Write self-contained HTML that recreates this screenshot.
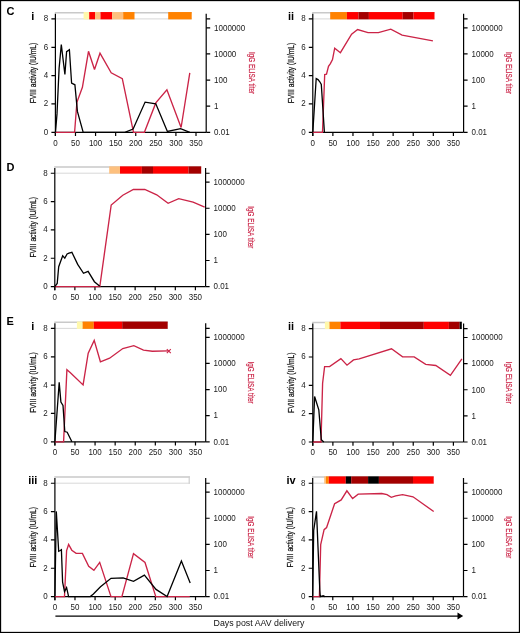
<!DOCTYPE html><html><head><meta charset="utf-8"><style>html,body{margin:0;padding:0;background:#fff;}svg{display:block;will-change:transform;}</style></head><body>
<svg width="520" height="633" viewBox="0 0 520 633" font-family='"Liberation Sans", sans-serif'>
<rect x="0" y="0" width="520" height="633" fill="#fff"/>
<rect x="0.575" y="0.575" width="518.85" height="631.85" fill="none" stroke="#000" stroke-width="1.15"/>
<path d="M54.8 12.7H191.7" stroke="#c9c9c9" stroke-width="1.5" fill="none"/>
<path d="M55.4 18.9H191.7" stroke="#d4d4d4" stroke-width="0.9" fill="none"/>
<rect x="83.6" y="12.05" width="5.6" height="7.3" fill="#fff8ac"/>
<rect x="89.2" y="12.05" width="5.8" height="7.3" fill="#ff0000"/>
<rect x="95" y="12.05" width="5.5" height="7.3" fill="#fdc07e"/>
<rect x="100.5" y="12.05" width="11.7" height="7.3" fill="#ff0000"/>
<rect x="112.2" y="12.05" width="11" height="7.3" fill="#fdc07e"/>
<rect x="123.2" y="12.05" width="11.3" height="7.3" fill="#ff8200"/>
<rect x="168.2" y="12.05" width="23.5" height="7.3" fill="#ff8200"/>
<path d="M55.4 13.8V136M55.4 132.3H206.2M206.2 13.8V132.3" stroke="#000" stroke-width="1.2" fill="none"/>
<path d="M51.4 132.3H55.4M51.4 103.96H55.4M51.4 75.62H55.4M51.4 47.28H55.4M51.4 18.94H55.4M55.4 132.3V136M75.48 132.3V136M95.57 132.3V136M115.66 132.3V136M135.74 132.3V136M155.82 132.3V136M175.91 132.3V136M196 132.3V136M206.2 18.94H210.2M206.2 132.3H210.2M206.2 106.18H210.2M206.2 80.06H210.2M206.2 53.94H210.2M206.2 27.82H210.2" stroke="#000" stroke-width="1.2" fill="none"/>
<text transform="translate(48.2,134.8) scale(1,1.1)" font-size="8" text-anchor="end" fill="#1a1a1a">0</text>
<text transform="translate(48.2,106.46) scale(1,1.1)" font-size="8" text-anchor="end" fill="#1a1a1a">2</text>
<text transform="translate(48.2,78.12) scale(1,1.1)" font-size="8" text-anchor="end" fill="#1a1a1a">4</text>
<text transform="translate(48.2,49.78) scale(1,1.1)" font-size="8" text-anchor="end" fill="#1a1a1a">6</text>
<text transform="translate(48.2,21.44) scale(1,1.1)" font-size="8" text-anchor="end" fill="#1a1a1a">8</text>
<text transform="translate(55.4,145.5) scale(1,1.1)" font-size="8" text-anchor="middle" fill="#1a1a1a">0</text>
<text transform="translate(75.48,145.5) scale(1,1.1)" font-size="8" text-anchor="middle" fill="#1a1a1a">50</text>
<text transform="translate(95.57,145.5) scale(1,1.1)" font-size="8" text-anchor="middle" fill="#1a1a1a">100</text>
<text transform="translate(115.66,145.5) scale(1,1.1)" font-size="8" text-anchor="middle" fill="#1a1a1a">150</text>
<text transform="translate(135.74,145.5) scale(1,1.1)" font-size="8" text-anchor="middle" fill="#1a1a1a">200</text>
<text transform="translate(155.82,145.5) scale(1,1.1)" font-size="8" text-anchor="middle" fill="#1a1a1a">250</text>
<text transform="translate(175.91,145.5) scale(1,1.1)" font-size="8" text-anchor="middle" fill="#1a1a1a">300</text>
<text transform="translate(196,145.5) scale(1,1.1)" font-size="8" text-anchor="middle" fill="#1a1a1a">350</text>
<text transform="translate(214.1,135.1) scale(1,1.1)" font-size="8" fill="#1a1a1a">0.01</text>
<text transform="translate(214.1,108.98) scale(1,1.1)" font-size="8" fill="#1a1a1a">1</text>
<text transform="translate(214.1,82.86) scale(1,1.1)" font-size="8" fill="#1a1a1a">100</text>
<text transform="translate(214.1,56.74) scale(1,1.1)" font-size="8" fill="#1a1a1a">10000</text>
<text transform="translate(214.1,30.62) scale(1,1.1)" font-size="8" fill="#1a1a1a">1000000</text>
<text transform="translate(36.1,73) rotate(-90)" font-size="9.8" text-anchor="middle" textLength="60.5" lengthAdjust="spacingAndGlyphs" fill="#111" stroke="#111" stroke-width="0.25">FVIII activity (IU/mL)</text>
<text transform="translate(248.7,73) rotate(90)" font-size="9.8" text-anchor="middle" textLength="42.2" lengthAdjust="spacingAndGlyphs" fill="#cb2447" stroke="#cb2447" stroke-width="0.2">IgG ELISA titer</text>
<polyline points="55.5,132.3 74.6,132.3 76.9,102.3 82.4,87.3 88.5,51.3 94.5,69.5 100,53.2 111.2,72.8 122.3,78.6 133.5,132.3 144.4,132.3 155.8,102.9 166.9,89.7 181.1,127.5 189.8,72.8" fill="none" stroke="#cb2447" stroke-width="1.35" stroke-linejoin="miter" stroke-miterlimit="3"/>
<polyline points="55.5,132.3 57,113.9 59.1,68.2 61.3,44.6 64.9,74.5 66.6,51.6 69.4,49.6 71.6,83.2 74.9,84.8 77.4,111.4 83.2,132.3 124.8,132.3 133.1,129.1 145.1,102.1 155.8,103.8 167.4,131.4 180.6,128.6 189.8,132.3" fill="none" stroke="#000" stroke-width="1.3" stroke-linejoin="miter" stroke-miterlimit="3"/>
<text x="32.8" y="20.1" font-size="11" font-weight="bold" text-anchor="middle">i</text>
<path d="M312.2 12.7H434.5" stroke="#c9c9c9" stroke-width="1.5" fill="none"/>
<path d="M312.8 18.9H434.5" stroke="#d4d4d4" stroke-width="0.9" fill="none"/>
<rect x="330.2" y="12.05" width="16.7" height="7.3" fill="#ff8200"/>
<rect x="346.9" y="12.05" width="11.6" height="7.3" fill="#ff0000"/>
<rect x="358.5" y="12.05" width="10.4" height="7.3" fill="#a30000"/>
<rect x="368.9" y="12.05" width="33.8" height="7.3" fill="#ff0000"/>
<rect x="402.7" y="12.05" width="10.8" height="7.3" fill="#a30000"/>
<rect x="413.5" y="12.05" width="21" height="7.3" fill="#ff0000"/>
<path d="M312.8 13.8V136M312.8 132.3H463.6M463.6 13.8V132.3" stroke="#000" stroke-width="1.2" fill="none"/>
<path d="M308.8 132.3H312.8M308.8 103.96H312.8M308.8 75.62H312.8M308.8 47.28H312.8M308.8 18.94H312.8M312.8 132.3V136M332.88 132.3V136M352.97 132.3V136M373.06 132.3V136M393.14 132.3V136M413.23 132.3V136M433.31 132.3V136M453.39 132.3V136M463.6 18.94H467.6M463.6 132.3H467.6M463.6 106.18H467.6M463.6 80.06H467.6M463.6 53.94H467.6M463.6 27.82H467.6" stroke="#000" stroke-width="1.2" fill="none"/>
<text transform="translate(305.6,134.8) scale(1,1.1)" font-size="8" text-anchor="end" fill="#1a1a1a">0</text>
<text transform="translate(305.6,106.46) scale(1,1.1)" font-size="8" text-anchor="end" fill="#1a1a1a">2</text>
<text transform="translate(305.6,78.12) scale(1,1.1)" font-size="8" text-anchor="end" fill="#1a1a1a">4</text>
<text transform="translate(305.6,49.78) scale(1,1.1)" font-size="8" text-anchor="end" fill="#1a1a1a">6</text>
<text transform="translate(305.6,21.44) scale(1,1.1)" font-size="8" text-anchor="end" fill="#1a1a1a">8</text>
<text transform="translate(312.8,145.5) scale(1,1.1)" font-size="8" text-anchor="middle" fill="#1a1a1a">0</text>
<text transform="translate(332.88,145.5) scale(1,1.1)" font-size="8" text-anchor="middle" fill="#1a1a1a">50</text>
<text transform="translate(352.97,145.5) scale(1,1.1)" font-size="8" text-anchor="middle" fill="#1a1a1a">100</text>
<text transform="translate(373.06,145.5) scale(1,1.1)" font-size="8" text-anchor="middle" fill="#1a1a1a">150</text>
<text transform="translate(393.14,145.5) scale(1,1.1)" font-size="8" text-anchor="middle" fill="#1a1a1a">200</text>
<text transform="translate(413.23,145.5) scale(1,1.1)" font-size="8" text-anchor="middle" fill="#1a1a1a">250</text>
<text transform="translate(433.31,145.5) scale(1,1.1)" font-size="8" text-anchor="middle" fill="#1a1a1a">300</text>
<text transform="translate(453.39,145.5) scale(1,1.1)" font-size="8" text-anchor="middle" fill="#1a1a1a">350</text>
<text transform="translate(471.5,135.1) scale(1,1.1)" font-size="8" fill="#1a1a1a">0.01</text>
<text transform="translate(471.5,108.98) scale(1,1.1)" font-size="8" fill="#1a1a1a">1</text>
<text transform="translate(471.5,82.86) scale(1,1.1)" font-size="8" fill="#1a1a1a">100</text>
<text transform="translate(471.5,56.74) scale(1,1.1)" font-size="8" fill="#1a1a1a">10000</text>
<text transform="translate(471.5,30.62) scale(1,1.1)" font-size="8" fill="#1a1a1a">1000000</text>
<text transform="translate(293.5,73) rotate(-90)" font-size="9.8" text-anchor="middle" textLength="60.5" lengthAdjust="spacingAndGlyphs" fill="#111" stroke="#111" stroke-width="0.25">FVIII activity (IU/mL)</text>
<text transform="translate(506.1,73) rotate(90)" font-size="9.8" text-anchor="middle" textLength="42.2" lengthAdjust="spacingAndGlyphs" fill="#cb2447" stroke="#cb2447" stroke-width="0.2">IgG ELISA titer</text>
<polyline points="312.8,132.3 322.5,132.3 324.7,74.5 326.5,74.2 328.5,66.4 330.4,63.6 332.5,59.6 334.7,48.2 340.4,52.7 351.6,34.2 357.6,29.5 368,32.6 378.4,32.6 390.8,29.2 402.1,35.2 432.9,40.8" fill="none" stroke="#cb2447" stroke-width="1.35" stroke-linejoin="miter" stroke-miterlimit="3"/>
<polyline points="312.8,132.3 316.2,78.5 318,79.6 319.8,81.8 321.3,84.5 324.4,132.3" fill="none" stroke="#000" stroke-width="1.3" stroke-linejoin="miter" stroke-miterlimit="3"/>
<text x="291" y="20.1" font-size="11" font-weight="bold" text-anchor="middle">ii</text>
<path d="M54.2 167H201.2" stroke="#c9c9c9" stroke-width="1.5" fill="none"/>
<path d="M54.8 173.2H201.2" stroke="#d4d4d4" stroke-width="0.9" fill="none"/>
<rect x="109.2" y="166.35" width="10.8" height="7.3" fill="#fdc07e"/>
<rect x="120" y="166.35" width="21.9" height="7.3" fill="#ff0000"/>
<rect x="141.9" y="166.35" width="11.1" height="7.3" fill="#a30000"/>
<rect x="153" y="166.35" width="35.5" height="7.3" fill="#ff0000"/>
<rect x="188.5" y="166.35" width="12.7" height="7.3" fill="#a30000"/>
<path d="M54.8 168.1V290.3M54.8 286.6H205.6M205.6 168.1V286.6" stroke="#000" stroke-width="1.2" fill="none"/>
<path d="M50.8 286.6H54.8M50.8 258.26H54.8M50.8 229.92H54.8M50.8 201.58H54.8M50.8 173.24H54.8M54.8 286.6V290.3M74.88 286.6V290.3M94.97 286.6V290.3M115.06 286.6V290.3M135.14 286.6V290.3M155.22 286.6V290.3M175.31 286.6V290.3M195.39 286.6V290.3M205.6 173.24H209.6M205.6 286.6H209.6M205.6 260.48H209.6M205.6 234.36H209.6M205.6 208.24H209.6M205.6 182.12H209.6" stroke="#000" stroke-width="1.2" fill="none"/>
<text transform="translate(47.6,289.1) scale(1,1.1)" font-size="8" text-anchor="end" fill="#1a1a1a">0</text>
<text transform="translate(47.6,260.76) scale(1,1.1)" font-size="8" text-anchor="end" fill="#1a1a1a">2</text>
<text transform="translate(47.6,232.42) scale(1,1.1)" font-size="8" text-anchor="end" fill="#1a1a1a">4</text>
<text transform="translate(47.6,204.08) scale(1,1.1)" font-size="8" text-anchor="end" fill="#1a1a1a">6</text>
<text transform="translate(47.6,175.74) scale(1,1.1)" font-size="8" text-anchor="end" fill="#1a1a1a">8</text>
<text transform="translate(54.8,299.8) scale(1,1.1)" font-size="8" text-anchor="middle" fill="#1a1a1a">0</text>
<text transform="translate(74.88,299.8) scale(1,1.1)" font-size="8" text-anchor="middle" fill="#1a1a1a">50</text>
<text transform="translate(94.97,299.8) scale(1,1.1)" font-size="8" text-anchor="middle" fill="#1a1a1a">100</text>
<text transform="translate(115.06,299.8) scale(1,1.1)" font-size="8" text-anchor="middle" fill="#1a1a1a">150</text>
<text transform="translate(135.14,299.8) scale(1,1.1)" font-size="8" text-anchor="middle" fill="#1a1a1a">200</text>
<text transform="translate(155.22,299.8) scale(1,1.1)" font-size="8" text-anchor="middle" fill="#1a1a1a">250</text>
<text transform="translate(175.31,299.8) scale(1,1.1)" font-size="8" text-anchor="middle" fill="#1a1a1a">300</text>
<text transform="translate(195.39,299.8) scale(1,1.1)" font-size="8" text-anchor="middle" fill="#1a1a1a">350</text>
<text transform="translate(213.5,289.4) scale(1,1.1)" font-size="8" fill="#1a1a1a">0.01</text>
<text transform="translate(213.5,263.28) scale(1,1.1)" font-size="8" fill="#1a1a1a">1</text>
<text transform="translate(213.5,237.16) scale(1,1.1)" font-size="8" fill="#1a1a1a">100</text>
<text transform="translate(213.5,211.04) scale(1,1.1)" font-size="8" fill="#1a1a1a">10000</text>
<text transform="translate(213.5,184.92) scale(1,1.1)" font-size="8" fill="#1a1a1a">1000000</text>
<text transform="translate(35.5,227.3) rotate(-90)" font-size="9.8" text-anchor="middle" textLength="60.5" lengthAdjust="spacingAndGlyphs" fill="#111" stroke="#111" stroke-width="0.25">FVIII activity (IU/mL)</text>
<text transform="translate(248.1,227.3) rotate(90)" font-size="9.8" text-anchor="middle" textLength="42.2" lengthAdjust="spacingAndGlyphs" fill="#cb2447" stroke="#cb2447" stroke-width="0.2">IgG ELISA titer</text>
<polyline points="54.8,286.6 99.8,286.6 111.2,205 122.8,195.2 133.4,189.5 144.8,189.5 156.7,194.8 168.1,203.3 178.7,198.6 193.1,202.2 204.7,207.1" fill="none" stroke="#cb2447" stroke-width="1.35" stroke-linejoin="miter" stroke-miterlimit="3"/>
<polyline points="54.8,286.6 57.2,283.5 58.7,266.7 60.4,262.1 62.7,255.8 64.8,258.1 67.1,254 69,253.2 71.9,252.3 77.7,264.4 83.5,273.3 88.1,271.3 94.4,281.7 99.8,286.3" fill="none" stroke="#000" stroke-width="1.3" stroke-linejoin="miter" stroke-miterlimit="3"/>
<path d="M54.3 322.2H167.7" stroke="#c9c9c9" stroke-width="1.5" fill="none"/>
<path d="M54.9 328.4H167.7" stroke="#d4d4d4" stroke-width="0.9" fill="none"/>
<rect x="76.9" y="321.55" width="5.7" height="7.3" fill="#fff8ac"/>
<rect x="82.6" y="321.55" width="11.2" height="7.3" fill="#ff8200"/>
<rect x="93.8" y="321.55" width="28.4" height="7.3" fill="#ff0000"/>
<rect x="122.2" y="321.55" width="45.5" height="7.3" fill="#a30000"/>
<path d="M54.9 323.3V445.5M54.9 441.8H205.7M205.7 323.3V441.8" stroke="#000" stroke-width="1.2" fill="none"/>
<path d="M50.9 441.8H54.9M50.9 413.46H54.9M50.9 385.12H54.9M50.9 356.78H54.9M50.9 328.44H54.9M54.9 441.8V445.5M74.98 441.8V445.5M95.07 441.8V445.5M115.16 441.8V445.5M135.24 441.8V445.5M155.32 441.8V445.5M175.41 441.8V445.5M195.5 441.8V445.5M205.7 328.44H209.7M205.7 441.8H209.7M205.7 415.68H209.7M205.7 389.56H209.7M205.7 363.44H209.7M205.7 337.32H209.7" stroke="#000" stroke-width="1.2" fill="none"/>
<text transform="translate(47.7,444.3) scale(1,1.1)" font-size="8" text-anchor="end" fill="#1a1a1a">0</text>
<text transform="translate(47.7,415.96) scale(1,1.1)" font-size="8" text-anchor="end" fill="#1a1a1a">2</text>
<text transform="translate(47.7,387.62) scale(1,1.1)" font-size="8" text-anchor="end" fill="#1a1a1a">4</text>
<text transform="translate(47.7,359.28) scale(1,1.1)" font-size="8" text-anchor="end" fill="#1a1a1a">6</text>
<text transform="translate(47.7,330.94) scale(1,1.1)" font-size="8" text-anchor="end" fill="#1a1a1a">8</text>
<text transform="translate(54.9,455) scale(1,1.1)" font-size="8" text-anchor="middle" fill="#1a1a1a">0</text>
<text transform="translate(74.98,455) scale(1,1.1)" font-size="8" text-anchor="middle" fill="#1a1a1a">50</text>
<text transform="translate(95.07,455) scale(1,1.1)" font-size="8" text-anchor="middle" fill="#1a1a1a">100</text>
<text transform="translate(115.16,455) scale(1,1.1)" font-size="8" text-anchor="middle" fill="#1a1a1a">150</text>
<text transform="translate(135.24,455) scale(1,1.1)" font-size="8" text-anchor="middle" fill="#1a1a1a">200</text>
<text transform="translate(155.32,455) scale(1,1.1)" font-size="8" text-anchor="middle" fill="#1a1a1a">250</text>
<text transform="translate(175.41,455) scale(1,1.1)" font-size="8" text-anchor="middle" fill="#1a1a1a">300</text>
<text transform="translate(195.5,455) scale(1,1.1)" font-size="8" text-anchor="middle" fill="#1a1a1a">350</text>
<text transform="translate(213.6,444.6) scale(1,1.1)" font-size="8" fill="#1a1a1a">0.01</text>
<text transform="translate(213.6,418.48) scale(1,1.1)" font-size="8" fill="#1a1a1a">1</text>
<text transform="translate(213.6,392.36) scale(1,1.1)" font-size="8" fill="#1a1a1a">100</text>
<text transform="translate(213.6,366.24) scale(1,1.1)" font-size="8" fill="#1a1a1a">10000</text>
<text transform="translate(213.6,340.12) scale(1,1.1)" font-size="8" fill="#1a1a1a">1000000</text>
<text transform="translate(35.6,382.5) rotate(-90)" font-size="9.8" text-anchor="middle" textLength="60.5" lengthAdjust="spacingAndGlyphs" fill="#111" stroke="#111" stroke-width="0.25">FVIII activity (IU/mL)</text>
<text transform="translate(248.2,382.5) rotate(90)" font-size="9.8" text-anchor="middle" textLength="42.2" lengthAdjust="spacingAndGlyphs" fill="#cb2447" stroke="#cb2447" stroke-width="0.2">IgG ELISA titer</text>
<polyline points="54.9,441.8 63.6,441.8 66.9,369.7 70.4,372.7 83.1,384.9 88.2,353.1 94.2,340.4 100.4,361.8 109.6,358.2 122.8,348.5 133.8,345.7 143.5,350.1 152.3,351.2 168.5,350.8" fill="none" stroke="#cb2447" stroke-width="1.35" stroke-linejoin="miter" stroke-miterlimit="3"/>
<polyline points="54.9,441.8 59.2,382.4 60.9,402 63,405.5 64.8,431.6 67.2,432.2 71.9,441.8" fill="none" stroke="#000" stroke-width="1.3" stroke-linejoin="miter" stroke-miterlimit="3"/>
<text x="32.8" y="329.6" font-size="11" font-weight="bold" text-anchor="middle">i</text>
<path d="M312.2 322.4H461.8" stroke="#c9c9c9" stroke-width="1.5" fill="none"/>
<path d="M312.8 328.6H461.8" stroke="#d4d4d4" stroke-width="0.9" fill="none"/>
<rect x="324.9" y="321.75" width="4.6" height="7.3" fill="#fff8ac"/>
<rect x="329.5" y="321.75" width="10.9" height="7.3" fill="#ff8200"/>
<rect x="340.4" y="321.75" width="39.6" height="7.3" fill="#ff0000"/>
<rect x="380" y="321.75" width="43.8" height="7.3" fill="#a30000"/>
<rect x="423.8" y="321.75" width="25.1" height="7.3" fill="#ff0000"/>
<rect x="448.9" y="321.75" width="10.8" height="7.3" fill="#a30000"/>
<rect x="459.7" y="321.75" width="2.1" height="7.3" fill="#000000"/>
<path d="M312.8 323.5V445.7M312.8 442H463.6M463.6 323.5V442" stroke="#000" stroke-width="1.2" fill="none"/>
<path d="M308.8 442H312.8M308.8 413.66H312.8M308.8 385.32H312.8M308.8 356.98H312.8M308.8 328.64H312.8M312.8 442V445.7M332.88 442V445.7M352.97 442V445.7M373.06 442V445.7M393.14 442V445.7M413.23 442V445.7M433.31 442V445.7M453.39 442V445.7M463.6 328.64H467.6M463.6 442H467.6M463.6 415.88H467.6M463.6 389.76H467.6M463.6 363.64H467.6M463.6 337.52H467.6" stroke="#000" stroke-width="1.2" fill="none"/>
<text transform="translate(305.6,444.5) scale(1,1.1)" font-size="8" text-anchor="end" fill="#1a1a1a">0</text>
<text transform="translate(305.6,416.16) scale(1,1.1)" font-size="8" text-anchor="end" fill="#1a1a1a">2</text>
<text transform="translate(305.6,387.82) scale(1,1.1)" font-size="8" text-anchor="end" fill="#1a1a1a">4</text>
<text transform="translate(305.6,359.48) scale(1,1.1)" font-size="8" text-anchor="end" fill="#1a1a1a">6</text>
<text transform="translate(305.6,331.14) scale(1,1.1)" font-size="8" text-anchor="end" fill="#1a1a1a">8</text>
<text transform="translate(312.8,455.2) scale(1,1.1)" font-size="8" text-anchor="middle" fill="#1a1a1a">0</text>
<text transform="translate(332.88,455.2) scale(1,1.1)" font-size="8" text-anchor="middle" fill="#1a1a1a">50</text>
<text transform="translate(352.97,455.2) scale(1,1.1)" font-size="8" text-anchor="middle" fill="#1a1a1a">100</text>
<text transform="translate(373.06,455.2) scale(1,1.1)" font-size="8" text-anchor="middle" fill="#1a1a1a">150</text>
<text transform="translate(393.14,455.2) scale(1,1.1)" font-size="8" text-anchor="middle" fill="#1a1a1a">200</text>
<text transform="translate(413.23,455.2) scale(1,1.1)" font-size="8" text-anchor="middle" fill="#1a1a1a">250</text>
<text transform="translate(433.31,455.2) scale(1,1.1)" font-size="8" text-anchor="middle" fill="#1a1a1a">300</text>
<text transform="translate(453.39,455.2) scale(1,1.1)" font-size="8" text-anchor="middle" fill="#1a1a1a">350</text>
<text transform="translate(471.5,444.8) scale(1,1.1)" font-size="8" fill="#1a1a1a">0.01</text>
<text transform="translate(471.5,418.68) scale(1,1.1)" font-size="8" fill="#1a1a1a">1</text>
<text transform="translate(471.5,392.56) scale(1,1.1)" font-size="8" fill="#1a1a1a">100</text>
<text transform="translate(471.5,366.44) scale(1,1.1)" font-size="8" fill="#1a1a1a">10000</text>
<text transform="translate(471.5,340.32) scale(1,1.1)" font-size="8" fill="#1a1a1a">1000000</text>
<text transform="translate(293.5,382.7) rotate(-90)" font-size="9.8" text-anchor="middle" textLength="60.5" lengthAdjust="spacingAndGlyphs" fill="#111" stroke="#111" stroke-width="0.25">FVIII activity (IU/mL)</text>
<text transform="translate(506.1,382.7) rotate(90)" font-size="9.8" text-anchor="middle" textLength="42.2" lengthAdjust="spacingAndGlyphs" fill="#cb2447" stroke="#cb2447" stroke-width="0.2">IgG ELISA titer</text>
<polyline points="312.8,442 321,442 322.6,383.2 324.6,366.6 329.6,366.6 340.9,358.6 347,365.2 353.5,359.9 359.2,358.8 391.5,348.8 402.6,356.9 414.2,356.9 425.7,364.3 435.8,365.5 450.4,375.4 461.9,358.8" fill="none" stroke="#cb2447" stroke-width="1.35" stroke-linejoin="miter" stroke-miterlimit="3"/>
<polyline points="312.8,442 314.6,396.5 318.8,409.8 321.3,439.7 323.8,442" fill="none" stroke="#000" stroke-width="1.3" stroke-linejoin="miter" stroke-miterlimit="3"/>
<text x="291" y="329.8" font-size="11" font-weight="bold" text-anchor="middle">ii</text>
<path d="M54.3 477H189.8" stroke="#c9c9c9" stroke-width="1.5" fill="none"/>
<path d="M54.9 483.2H189.8" stroke="#d4d4d4" stroke-width="0.9" fill="none"/>
<path d="M189.2 476.25V483.65" stroke="#cfcfcf" stroke-width="1.2" fill="none"/>
<path d="M54.9 478.1V600.3M54.9 596.6H205.7M205.7 478.1V596.6" stroke="#000" stroke-width="1.2" fill="none"/>
<path d="M50.9 596.6H54.9M50.9 568.26H54.9M50.9 539.92H54.9M50.9 511.58H54.9M50.9 483.24H54.9M54.9 596.6V600.3M74.98 596.6V600.3M95.07 596.6V600.3M115.16 596.6V600.3M135.24 596.6V600.3M155.32 596.6V600.3M175.41 596.6V600.3M195.5 596.6V600.3M205.7 483.24H209.7M205.7 596.6H209.7M205.7 570.48H209.7M205.7 544.36H209.7M205.7 518.24H209.7M205.7 492.12H209.7" stroke="#000" stroke-width="1.2" fill="none"/>
<text transform="translate(47.7,599.1) scale(1,1.1)" font-size="8" text-anchor="end" fill="#1a1a1a">0</text>
<text transform="translate(47.7,570.76) scale(1,1.1)" font-size="8" text-anchor="end" fill="#1a1a1a">2</text>
<text transform="translate(47.7,542.42) scale(1,1.1)" font-size="8" text-anchor="end" fill="#1a1a1a">4</text>
<text transform="translate(47.7,514.08) scale(1,1.1)" font-size="8" text-anchor="end" fill="#1a1a1a">6</text>
<text transform="translate(47.7,485.74) scale(1,1.1)" font-size="8" text-anchor="end" fill="#1a1a1a">8</text>
<text transform="translate(54.9,609.8) scale(1,1.1)" font-size="8" text-anchor="middle" fill="#1a1a1a">0</text>
<text transform="translate(74.98,609.8) scale(1,1.1)" font-size="8" text-anchor="middle" fill="#1a1a1a">50</text>
<text transform="translate(95.07,609.8) scale(1,1.1)" font-size="8" text-anchor="middle" fill="#1a1a1a">100</text>
<text transform="translate(115.16,609.8) scale(1,1.1)" font-size="8" text-anchor="middle" fill="#1a1a1a">150</text>
<text transform="translate(135.24,609.8) scale(1,1.1)" font-size="8" text-anchor="middle" fill="#1a1a1a">200</text>
<text transform="translate(155.32,609.8) scale(1,1.1)" font-size="8" text-anchor="middle" fill="#1a1a1a">250</text>
<text transform="translate(175.41,609.8) scale(1,1.1)" font-size="8" text-anchor="middle" fill="#1a1a1a">300</text>
<text transform="translate(195.5,609.8) scale(1,1.1)" font-size="8" text-anchor="middle" fill="#1a1a1a">350</text>
<text transform="translate(213.6,599.4) scale(1,1.1)" font-size="8" fill="#1a1a1a">0.01</text>
<text transform="translate(213.6,573.28) scale(1,1.1)" font-size="8" fill="#1a1a1a">1</text>
<text transform="translate(213.6,547.16) scale(1,1.1)" font-size="8" fill="#1a1a1a">100</text>
<text transform="translate(213.6,521.04) scale(1,1.1)" font-size="8" fill="#1a1a1a">10000</text>
<text transform="translate(213.6,494.92) scale(1,1.1)" font-size="8" fill="#1a1a1a">1000000</text>
<text transform="translate(35.6,537.3) rotate(-90)" font-size="9.8" text-anchor="middle" textLength="60.5" lengthAdjust="spacingAndGlyphs" fill="#111" stroke="#111" stroke-width="0.25">FVIII activity (IU/mL)</text>
<text transform="translate(248.2,537.3) rotate(90)" font-size="9.8" text-anchor="middle" textLength="42.2" lengthAdjust="spacingAndGlyphs" fill="#cb2447" stroke="#cb2447" stroke-width="0.2">IgG ELISA titer</text>
<polyline points="54.9,596.6 64.5,596.6 66.6,550.5 68.6,544.5 71.8,550.2 76.1,553.4 82.4,553.4 88.7,566.3 93.9,570.3 99.7,562.4 111,596.6 121.9,596.6 133.5,553.6 145,562.5 155.8,596.6 189.8,596.6" fill="none" stroke="#cb2447" stroke-width="1.35" stroke-linejoin="miter" stroke-miterlimit="3"/>
<polyline points="54.9,596.6 56.3,511.4 58.7,551.3 60.3,550.5 61.4,549.7 62.6,582.1 64.5,591.6 66.6,587.6 68.6,596.6 90.3,596.6 93.4,594 100.5,586.8 111,578.3 123.1,577.8 133.5,581.3 144.4,575.2 156,589.4 167.1,596.5 181.4,561 190.2,582.9" fill="none" stroke="#000" stroke-width="1.3" stroke-linejoin="miter" stroke-miterlimit="3"/>
<text x="32.8" y="484.4" font-size="11" font-weight="bold" text-anchor="middle">iii</text>
<path d="M312.1 477H433.7" stroke="#c9c9c9" stroke-width="1.5" fill="none"/>
<path d="M312.7 483.2H433.7" stroke="#d4d4d4" stroke-width="0.9" fill="none"/>
<rect x="324.2" y="476.35" width="1.8" height="7.3" fill="#fdc07e"/>
<rect x="326" y="476.35" width="2.8" height="7.3" fill="#ff8200"/>
<rect x="328.8" y="476.35" width="17" height="7.3" fill="#ff0000"/>
<rect x="345.8" y="476.35" width="5.4" height="7.3" fill="#000000"/>
<rect x="351.2" y="476.35" width="16.9" height="7.3" fill="#a30000"/>
<rect x="368.1" y="476.35" width="10.8" height="7.3" fill="#000000"/>
<rect x="378.9" y="476.35" width="34.1" height="7.3" fill="#a30000"/>
<rect x="413" y="476.35" width="20.7" height="7.3" fill="#ff0000"/>
<path d="M312.7 478.1V600.3M312.7 596.6H463.5M463.5 478.1V596.6" stroke="#000" stroke-width="1.2" fill="none"/>
<path d="M308.7 596.6H312.7M308.7 568.26H312.7M308.7 539.92H312.7M308.7 511.58H312.7M308.7 483.24H312.7M312.7 596.6V600.3M332.78 596.6V600.3M352.87 596.6V600.3M372.95 596.6V600.3M393.04 596.6V600.3M413.12 596.6V600.3M433.21 596.6V600.3M453.29 596.6V600.3M463.5 483.24H467.5M463.5 596.6H467.5M463.5 570.48H467.5M463.5 544.36H467.5M463.5 518.24H467.5M463.5 492.12H467.5" stroke="#000" stroke-width="1.2" fill="none"/>
<text transform="translate(305.5,599.1) scale(1,1.1)" font-size="8" text-anchor="end" fill="#1a1a1a">0</text>
<text transform="translate(305.5,570.76) scale(1,1.1)" font-size="8" text-anchor="end" fill="#1a1a1a">2</text>
<text transform="translate(305.5,542.42) scale(1,1.1)" font-size="8" text-anchor="end" fill="#1a1a1a">4</text>
<text transform="translate(305.5,514.08) scale(1,1.1)" font-size="8" text-anchor="end" fill="#1a1a1a">6</text>
<text transform="translate(305.5,485.74) scale(1,1.1)" font-size="8" text-anchor="end" fill="#1a1a1a">8</text>
<text transform="translate(312.7,609.8) scale(1,1.1)" font-size="8" text-anchor="middle" fill="#1a1a1a">0</text>
<text transform="translate(332.78,609.8) scale(1,1.1)" font-size="8" text-anchor="middle" fill="#1a1a1a">50</text>
<text transform="translate(352.87,609.8) scale(1,1.1)" font-size="8" text-anchor="middle" fill="#1a1a1a">100</text>
<text transform="translate(372.95,609.8) scale(1,1.1)" font-size="8" text-anchor="middle" fill="#1a1a1a">150</text>
<text transform="translate(393.04,609.8) scale(1,1.1)" font-size="8" text-anchor="middle" fill="#1a1a1a">200</text>
<text transform="translate(413.12,609.8) scale(1,1.1)" font-size="8" text-anchor="middle" fill="#1a1a1a">250</text>
<text transform="translate(433.21,609.8) scale(1,1.1)" font-size="8" text-anchor="middle" fill="#1a1a1a">300</text>
<text transform="translate(453.29,609.8) scale(1,1.1)" font-size="8" text-anchor="middle" fill="#1a1a1a">350</text>
<text transform="translate(471.4,599.4) scale(1,1.1)" font-size="8" fill="#1a1a1a">0.01</text>
<text transform="translate(471.4,573.28) scale(1,1.1)" font-size="8" fill="#1a1a1a">1</text>
<text transform="translate(471.4,547.16) scale(1,1.1)" font-size="8" fill="#1a1a1a">100</text>
<text transform="translate(471.4,521.04) scale(1,1.1)" font-size="8" fill="#1a1a1a">10000</text>
<text transform="translate(471.4,494.92) scale(1,1.1)" font-size="8" fill="#1a1a1a">1000000</text>
<text transform="translate(293.4,537.3) rotate(-90)" font-size="9.8" text-anchor="middle" textLength="60.5" lengthAdjust="spacingAndGlyphs" fill="#111" stroke="#111" stroke-width="0.25">FVIII activity (IU/mL)</text>
<text transform="translate(506,537.3) rotate(90)" font-size="9.8" text-anchor="middle" textLength="42.2" lengthAdjust="spacingAndGlyphs" fill="#cb2447" stroke="#cb2447" stroke-width="0.2">IgG ELISA titer</text>
<polyline points="312.7,596.6 319.4,596.6 320.7,544.6 324.1,529.7 326.6,527.5 334.6,503.7 336.1,502.8 341.2,499.9 346.9,490.8 352.6,498.6 358.2,494.2 381.8,493.5 387,494.7 391.3,497.3 395.7,495.9 402.6,494.7 413,496.8 433.7,511.5" fill="none" stroke="#cb2447" stroke-width="1.35" stroke-linejoin="miter" stroke-miterlimit="3"/>
<polyline points="312.7,596.6 313.7,530.3 316.5,511.3 319.8,590.1 320.3,596.6 323.2,595.8 325,596.6" fill="none" stroke="#000" stroke-width="1.3" stroke-linejoin="miter" stroke-miterlimit="3"/>
<text x="291" y="484.4" font-size="11" font-weight="bold" text-anchor="middle">iv</text>
<path d="M166.8 349.1L170.8 353.1M166.8 353.1L170.8 349.1" stroke="#cb2447" stroke-width="1.1"/>
<text x="6.6" y="15" font-size="11" font-weight="bold">C</text>
<text x="6.6" y="170.8" font-size="11" font-weight="bold">D</text>
<text x="6.6" y="325" font-size="11" font-weight="bold">E</text>
<path d="M55.4 616.1H458.5" stroke="#000" stroke-width="1.4"/>
<path d="M457.5 612.6L463.2 616.1L457.5 619.6Z" fill="#000"/>
<text x="213.6" y="626" font-size="8.8" fill="#111">Days post AAV delivery</text>
</svg></body></html>
